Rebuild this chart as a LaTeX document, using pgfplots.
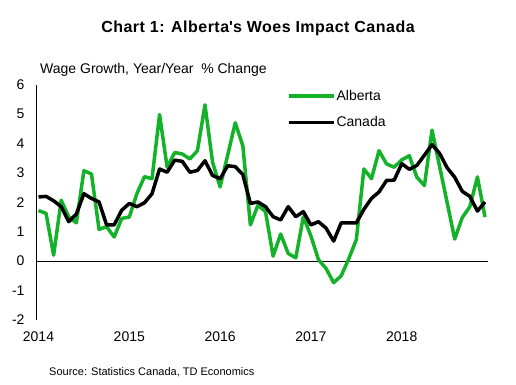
\documentclass[border=0pt]{standalone}
\usepackage{pgfplots}
\usepackage{pgfplotstable}
\pgfplotsset{compat=1.18}
\usepackage{fontspec}
\setmainfont{Liberation Sans}
\definecolor{abgreen}{RGB}{20,178,40}

\pgfplotstableread{
m ab ca
0 1.72 2.18
1 1.62 2.20
2 0.20 2.05
3 2.07 1.85
4 1.50 1.34
5 1.30 1.60
6 3.07 2.29
7 2.96 2.13
8 1.08 2.01
9 1.17 1.23
10 0.82 1.23
11 1.45 1.73
12 1.50 1.96
13 2.29 1.85
14 2.87 1.98
15 2.80 2.29
16 4.98 3.13
17 3.19 3.02
18 3.69 3.43
19 3.64 3.39
20 3.47 3.02
21 3.75 3.08
22 5.31 3.41
23 3.36 2.91
24 2.52 2.80
25 3.60 3.24
26 4.70 3.21
27 3.92 2.94
28 1.23 1.96
29 1.90 2.01
30 1.68 1.85
31 0.17 1.51
32 0.92 1.40
33 0.26 1.85
34 0.11 1.51
35 1.51 1.68
36 0.85 1.23
37 0.05 1.34
38 -0.25 1.12
39 -0.73 0.68
40 -0.50 1.30
41 0.08 1.30
42 0.73 1.30
43 3.13 1.76
44 2.80 2.13
45 3.75 2.35
46 3.30 2.74
47 3.19 2.75
48 3.44 3.31
49 3.58 3.12
50 2.85 3.25
51 2.57 3.60
52 4.45 3.96
53 3.22 3.66
54 1.99 3.17
55 0.75 2.85
56 1.48 2.37
57 1.85 2.20
58 2.86 1.70
59 1.50 2.01
}\datatab

\begin{document}
\begin{tikzpicture}
\useasboundingbox (-36bp,-65bp) rectangle (480bp,320bp);
\begin{axis}[
  scale only axis, width=452bp, height=235.5bp,
  xmin=-0.33, xmax=59.4, ymin=-2, ymax=6,
  axis x line*=bottom, axis y line*=left,
  x axis line style={draw=none},
  y axis line style={-, black, line width=0.75bp},
  major tick length=0pt,
  xtick={0,12,24,36,48}, xticklabels={2014,2015,2016,2017,2018},
  ytick={-2,-1,0,1,2,3,4,5,6}, yticklabels={-2,-1,0,1,2,3,4,5,6},
  tick label style={font=\fontsize{14bp}{16bp}\selectfont},
  yticklabel style={xshift=-8bp},
  xticklabel style={yshift=-8bp},
  extra y ticks={0}, extra y tick labels={},
  extra y tick style={grid=major, major grid style={black, line width=0.75bp}},
  legend style={at={(axis description cs:0.555,0.982)}, anchor=north west,
    draw=none, fill=none, inner sep=0pt, row sep=13bp,
    font=\fontsize{14bp}{16bp}\selectfont,
    nodes={inner sep=1bp}},
  legend cell align=left,
  legend image code/.code={\draw[#1, line width=3.5bp] (0bp,0bp) -- (45bp,0bp);},
]
\addplot[abgreen, line width=3.5bp, line join=round] table[x=m, y=ab] {\datatab};
\addlegendentry{Alberta}
\addplot[black, line width=3.5bp, line join=round] table[x=m, y=ca] {\datatab};
\addlegendentry{Canada}
\end{axis}
\node[font=\bfseries\fontsize{16bp}{18bp}\selectfont\addfontfeature{LetterSpace=3}] at (222bp,292bp) {Chart 1: Alberta\textquotesingle s Woes Impact Canada};
\node[anchor=west, inner sep=0pt, font=\fontsize{14bp}{16bp}\selectfont] at (4bp,250bp) {Wage Growth, Year/Year \ \% Change};
\node[anchor=west, inner sep=0pt, font=\fontsize{11bp}{13bp}\selectfont] at (13bp,-52bp) {Source: Statistics Canada, TD Economics};
\end{tikzpicture}
\end{document}
